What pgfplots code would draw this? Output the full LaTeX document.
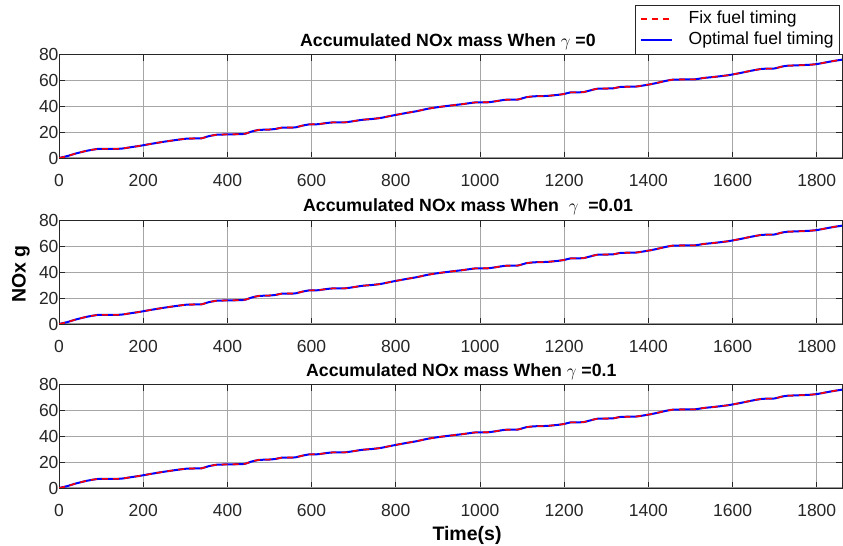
\documentclass[border=0pt]{standalone}
\usepackage{pgfplots}
\pgfplotsset{compat=1.18}
\usepackage{pgfplotstable}
\usepackage{fontspec}
\setmainfont{Liberation Sans}

\definecolor{axgray}{RGB}{38,38,38}

\pgfplotstableread{
t v
0 0
20 1.5
40 3.5
65 5.5
92 7
120 7
147 7.2
170 8.3
194 9.5
220 11
250 12.6
280 14
305 15
338 15.2
355 16.8
375 18
410 18.3
440 18.6
458 20.5
475 21.7
500 22
515 22.5
530 23.5
560 23.6
578 25
595 26
615 26.1
635 27
650 27.5
680 27.6
700 28.5
720 29.5
745 30.2
765 31
780 32
800 33.3
825 34.8
850 36.2
875 38
900 39.3
929 40.5
960 41.7
990 43
1020 43.1
1040 44
1060 45
1090 45.2
1110 47
1130 47.7
1160 48
1185 48.8
1200 49.5
1215 50.7
1245 50.9
1265 52.5
1280 53.6
1315 53.8
1335 55
1370 55.2
1400 56.7
1420 58
1440 59.5
1460 60.6
1510 60.8
1530 61.8
1560 62.8
1590 64
1620 65.8
1645 67.5
1670 68.9
1700 69.2
1715 70.5
1730 71.3
1780 72
1800 72.6
1820 73.8
1840 75
1860 76
}\noxdata

\pgfplotsset{
  panel/.style={
    scale only axis, width=783bp, height=103.5bp,
    xmin=0, xmax=1860, ymin=0, ymax=80,
    xtick={0,200,...,1800}, ytick={0,20,...,80},
    grid=major, major grid style={gray!70, line width=0.6bp},
    axis line style={axgray, line width=0.8bp},
    tick style={axgray, line width=0.8bp}, tick align=inside, major tick length=6bp,
    ticklabel style={font=\fontsize{17.5bp}{20bp}\selectfont, text=axgray},
    /pgf/number format/assume math mode=true,
    /pgf/number format/1000 sep={},
    xticklabel style={yshift=-13bp},
    yticklabel style={xshift=3bp},
  },
  fixline/.style={red, line width=1.6bp, dash pattern=on 6bp off 5bp},
  optline/.style={blue, line width=2bp},
}

\begin{document}
\begin{tikzpicture}
\useasboundingbox (0,0) rectangle (843bp,546bp);

% Panel 1
\begin{axis}[panel, at={(59bp,388bp)}, anchor=south west,
  legend image code/.code={\draw[#1] (0bp,0bp) -- (31bp,0bp);},
  legend cell align=left,
  legend style={at={(axis description cs:0.9974,1)}, anchor=south east,
    draw=axgray, line width=0.8bp, fill=white,
    font=\fontsize{17.5bp}{20bp}\selectfont,
    inner xsep=4bp, inner ysep=3.5bp, row sep=0bp,
    nodes={inner sep=2bp, text height=13bp, text depth=4bp}}]
\addlegendimage{fixline}\addlegendentry{\hspace*{14bp}Fix fuel timing}
\addlegendimage{optline}\addlegendentry{\hspace*{14bp}Optimal fuel timing}
\draw[gray!80, line width=2.5bp] (rel axis cs:0,0) -- (rel axis cs:1,0);
\addplot[optline, forget plot, smooth, tension=0.3] table[x=t, y=v] {\noxdata};
\addplot[fixline, forget plot, smooth, tension=0.3] table[x=t, y=v] {\noxdata};
\end{axis}

% Panel 2
\begin{axis}[panel, at={(59bp,222bp)}, anchor=south west]
\draw[gray!80, line width=2.5bp] (rel axis cs:0,0) -- (rel axis cs:1,0);
\addplot[optline, smooth, tension=0.3] table[x=t, y=v] {\noxdata};
\addplot[fixline, smooth, tension=0.3] table[x=t, y=v] {\noxdata};
\end{axis}

% Panel 3
\begin{axis}[panel, at={(59bp,58bp)}, anchor=south west]
\draw[gray!80, line width=2.5bp] (rel axis cs:0,0) -- (rel axis cs:1,0);
\addplot[optline, smooth, tension=0.3] table[x=t, y=v] {\noxdata};
\addplot[fixline, smooth, tension=0.3] table[x=t, y=v] {\noxdata};
\end{axis}

% Titles
\node[anchor=base west, inner sep=0pt, font=\bfseries\fontsize{17.7bp}{20bp}\selectfont] at (300bp,499bp) {Accumulated NOx mass When $\gamma$ =0};
\node[anchor=base west, inner sep=0pt, font=\bfseries\fontsize{17.7bp}{20bp}\selectfont] at (303bp,334bp) {Accumulated NOx mass When\ \ $\gamma$\ \ =0.01};
\node[anchor=base west, inner sep=0pt, font=\bfseries\fontsize{17.7bp}{20bp}\selectfont] at (306bp,169bp) {Accumulated NOx mass When $\gamma$ =0.1};

% Axis labels
\node[rotate=90, inner sep=0pt, font=\bfseries\fontsize{19.5bp}{22bp}\selectfont] at (21bp,272bp) {NOx g};
\node[anchor=base, inner sep=0pt, font=\bfseries\fontsize{19.5bp}{22bp}\selectfont] at (467bp,6bp) {Time(s)};
\end{tikzpicture}
\end{document}
